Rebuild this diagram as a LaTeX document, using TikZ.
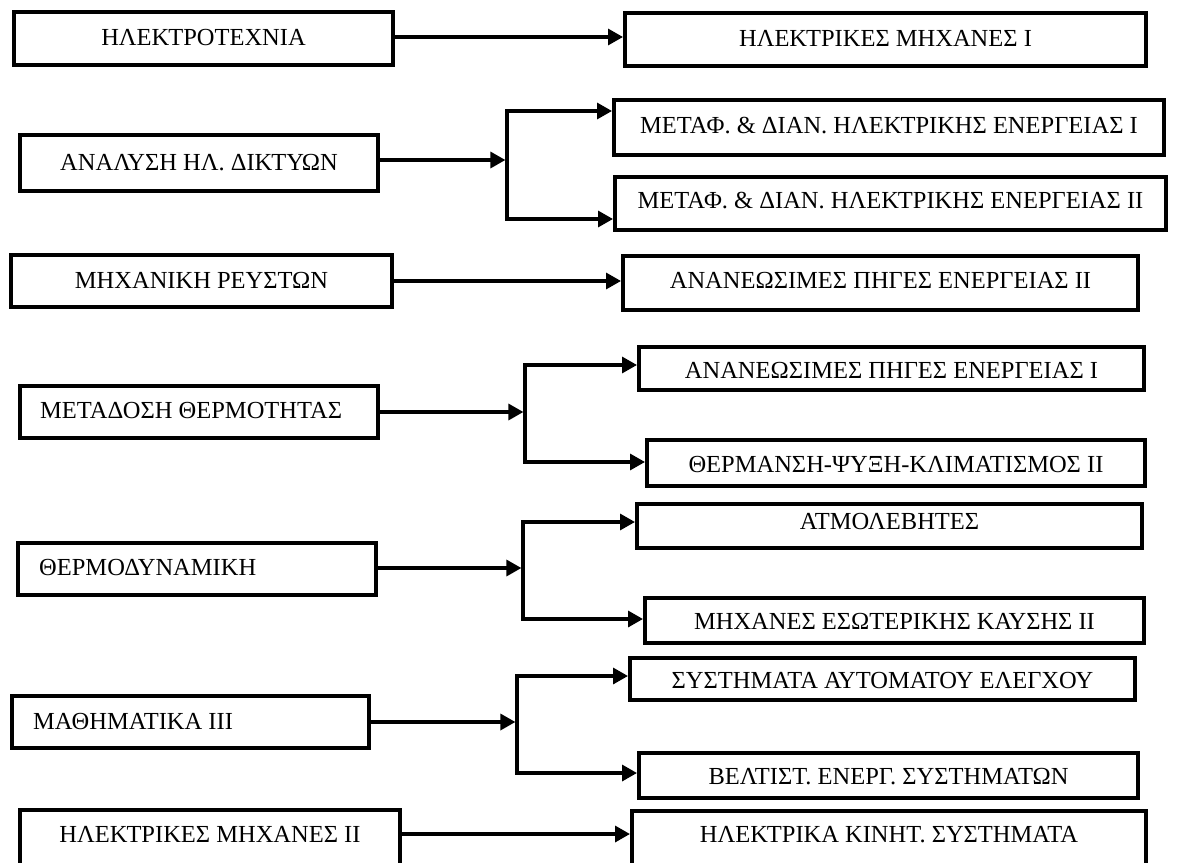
\documentclass[tikz,border=0pt]{standalone}
\usepackage{fontspec}
\setmainfont{Liberation Serif}
\usetikzlibrary{arrows.meta}
\tikzset{
  box/.style={draw=black, line width=4pt, rectangle, inner sep=0pt},
  lbl/.style={font=\fontsize{24.5}{29}\selectfont, inner sep=0pt, text height=16.2pt, text depth=0pt},
  conn/.style={line width=3.3pt, line join=miter, -{Triangle[length=15pt,width=16pt]}},
  plain/.style={line width=3.3pt, line join=miter},
}
\newcommand{\mybox}[5]{\node[box, minimum width={#4-#2-4}, minimum height={#5-#3-4}] (#1) at ({(#2+#4)/2},{(#3+#5)/2}) {};}
\begin{document}
\begin{tikzpicture}[x=1pt,y=-1pt]
\useasboundingbox (0,0) rectangle (1177,862);
\fill[white] (0,0) rectangle (1177,862);
\clip (0,0) rectangle (1177,862);

% boxes
\mybox{b1}{12}{10}{395}{67}
\mybox{b2}{623}{11}{1148}{68}
\mybox{b3}{18}{133}{380}{193}
\mybox{b4}{612}{98}{1166}{157}
\mybox{b5}{613}{175}{1168}{232}
\mybox{b6}{9}{253}{394}{309}
\mybox{b7}{621}{254}{1140}{312}
\mybox{b8}{18}{384}{380}{440}
\mybox{b9}{637}{345}{1146}{392}
\mybox{b10}{645}{438}{1147}{488}
\mybox{b11}{16}{541}{378}{597}
\mybox{b12}{635}{502}{1144}{550}
\mybox{b13}{643}{596}{1146}{645}
\mybox{b14}{10}{694}{371}{750}
\mybox{b15}{628}{656}{1137}{702}
\mybox{b16}{637}{751}{1140}{800}
\mybox{b17}{18}{808}{402}{880}
\mybox{b18}{630}{809}{1148}{880}

% labels
\node[lbl] (t1) at (b1 |- 0,37) {ΗΛΕΚΤΡΟΤΕΧΝΙΑ};
\node[lbl] (t2) at (b2 |- 0,38) {ΗΛΕΚΤΡΙΚΕΣ ΜΗΧΑΝΕΣ I};
\node[lbl] (t3) at (b3 |- 0,162) {ΑΝΑΛΥΣΗ ΗΛ. ΔΙΚΤΥΩΝ};
\node[lbl] (t4) at (b4 |- 0,125) {ΜΕΤΑΦ. \& ΔΙΑΝ. ΗΛΕΚΤΡΙΚΗΣ ΕΝΕΡΓΕΙΑΣ I};
\node[lbl] (t5) at (b5 |- 0,200) {ΜΕΤΑΦ. \& ΔΙΑΝ. ΗΛΕΚΤΡΙΚΗΣ ΕΝΕΡΓΕΙΑΣ II};
\node[lbl] (t6) at (b6 |- 0,280) {ΜΗΧΑΝΙΚΗ ΡΕΥΣΤΩΝ};
\node[lbl] (t7) at (b7 |- 0,280) {ΑΝΑΝΕΩΣΙΜΕΣ ΠΗΓΕΣ ΕΝΕΡΓΕΙΑΣ II};
\node[lbl, anchor=west] (t8) at (40,410) {ΜΕΤΑΔΟΣΗ ΘΕΡΜΟΤΗΤΑΣ};
\node[lbl] (t9) at (b9 |- 0,370) {ΑΝΑΝΕΩΣΙΜΕΣ ΠΗΓΕΣ ΕΝΕΡΓΕΙΑΣ I};
\node[lbl] (t10) at (b10 |- 0,464) {ΘΕΡΜΑΝΣΗ-ΨΥΞΗ-ΚΛΙΜΑΤΙΣΜΟΣ II};
\node[lbl, anchor=west] (t11) at (39,567) {ΘΕΡΜΟΔΥΝΑΜΙΚΗ};
\node[lbl] (t12) at (b12 |- 0,521) {ΑΤΜΟΛΕΒΗΤΕΣ};
\node[lbl] (t13) at (b13 |- 0,621) {ΜΗΧΑΝΕΣ ΕΣΩΤΕΡΙΚΗΣ ΚΑΥΣΗΣ II};
\node[lbl, anchor=west] (t14) at (33,721) {ΜΑΘΗΜΑΤΙΚΑ III};
\node[lbl] (t15) at (b15 |- 0,680) {ΣΥΣΤΗΜΑΤΑ ΑΥΤΟΜΑΤΟΥ ΕΛΕΓΧΟΥ};
\node[lbl] (t16) at (b16 |- 0,776) {ΒΕΛΤΙΣΤ. ΕΝΕΡΓ. ΣΥΣΤΗΜΑΤΩΝ};
\node[lbl] (t17) at (b17 |- 0,834) {ΗΛΕΚΤΡΙΚΕΣ ΜΗΧΑΝΕΣ II};
\node[lbl] (t18) at (b18 |- 0,834) {ΗΛΕΚΤΡΙΚΑ ΚΙΝΗΤ. ΣΥΣΤΗΜΑΤΑ};

% row coordinates
\coordinate (r1) at (0,37);
\coordinate (r3) at (0,281);
\coordinate (r7) at (0,834);
\coordinate (j2m) at (507,160); \coordinate (j2t) at (507,111); \coordinate (j2b) at (507,219);
\coordinate (j4m) at (525,412); \coordinate (j4t) at (525,365); \coordinate (j4b) at (525,462);
\coordinate (j5m) at (523,568); \coordinate (j5t) at (523,522); \coordinate (j5b) at (523,619);
\coordinate (j6m) at (517,722); \coordinate (j6t) at (517,676); \coordinate (j6b) at (517,773);

% straight connectors
\draw[conn] (b1.east |- r1) -- (b2.west |- r1);
\draw[conn] (b6.east |- r3) -- (b7.west |- r3);
\draw[conn] (b17.east |- r7) -- (b18.west |- r7);

% forks
\draw[conn] (b3.east |- j2m) -- ([xshift=-1.6pt]j2m);
\draw[plain] (j2t) -- (j2b);
\draw[conn] ([yshift=1.65pt]j2t) -- (j2t) -- (j2t -| b4.west);
\draw[conn] ([yshift=-1.65pt]j2b) -- (j2b) -- (j2b -| b5.west);

\draw[conn] (b8.east |- j4m) -- ([xshift=-1.6pt]j4m);
\draw[plain] (j4t) -- (j4b);
\draw[conn] ([yshift=1.65pt]j4t) -- (j4t) -- (j4t -| b9.west);
\draw[conn] ([yshift=-1.65pt]j4b) -- (j4b) -- (j4b -| b10.west);

\draw[conn] (b11.east |- j5m) -- ([xshift=-1.6pt]j5m);
\draw[plain] (j5t) -- (j5b);
\draw[conn] ([yshift=1.65pt]j5t) -- (j5t) -- (j5t -| b12.west);
\draw[conn] ([yshift=-1.65pt]j5b) -- (j5b) -- (j5b -| b13.west);

\draw[conn] (b14.east |- j6m) -- ([xshift=-1.6pt]j6m);
\draw[plain] (j6t) -- (j6b);
\draw[conn] ([yshift=1.65pt]j6t) -- (j6t) -- (j6t -| b15.west);
\draw[conn] ([yshift=-1.65pt]j6b) -- (j6b) -- (j6b -| b16.west);
\end{tikzpicture}
\end{document}
